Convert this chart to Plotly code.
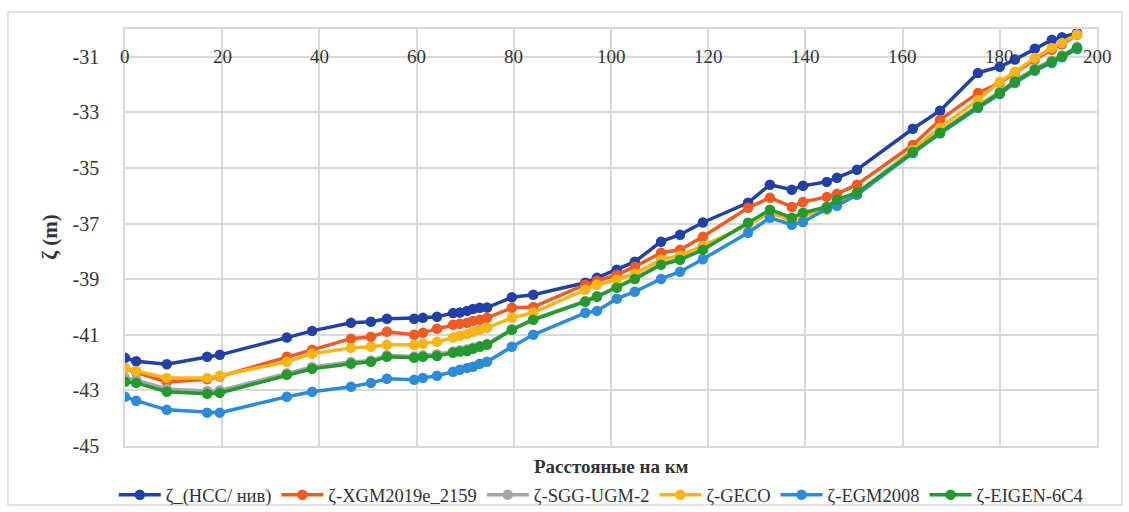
import plotly.graph_objects as go

distance_km = [0, 2.3, 8.6, 16.9, 19.5, 33.3, 38.5, 46.5, 50.6, 53.9, 59.5, 61.3, 64.2,
               67.5, 68.9, 70.4, 71.6, 73.0, 74.5, 79.6, 84.0, 94.7, 97.1, 101.2, 104.9,
               110.3, 114.2, 118.9, 128.2, 132.7, 137.2, 139.5, 144.4, 146.5, 150.6,
               162.1, 167.7, 175.5, 180.0, 183.1, 187.2, 190.7, 192.8, 195.9]

zeta_hcc = [-41.83, -41.95, -42.06, -41.79, -41.72, -41.10, -40.86, -40.57, -40.53, -40.42,
            -40.42, -40.39, -40.35, -40.22, -40.20, -40.14, -40.07, -40.03, -40.02, -39.65,
            -39.56, -39.13, -38.95, -38.66, -38.37, -37.65, -37.40, -36.96, -36.25, -35.60,
            -35.78, -35.64, -35.50, -35.35, -35.06, -33.59, -32.94, -31.58, -31.36, -31.10,
            -30.71, -30.39, -30.30, -30.14]

zeta_xgm = [-42.20, -42.35, -42.70, -42.60, -42.50, -41.79, -41.54, -41.14, -41.07, -40.89,
            -41.00, -40.93, -40.78, -40.64, -40.60, -40.57, -40.50, -40.46, -40.39, -40.03,
            -40.00, -39.20, -39.06, -38.84, -38.55, -38.05, -37.94, -37.47, -36.43, -36.07,
            -36.40, -36.22, -36.04, -35.93, -35.60, -34.17, -33.27, -32.30, -31.94, -31.58,
            -31.10, -30.75, -30.55, -30.21]

zeta_sgg = [-42.55, -42.62, -42.95, -43.02, -43.00, -42.38, -42.16, -41.98, -41.92, -41.74,
            -41.78, -41.74, -41.70, -41.60, -41.56, -41.52, -41.46, -41.40, -41.32, -40.80,
            -40.44, -39.78, -39.60, -39.28, -38.96, -38.45, -38.28, -37.92, -36.98, -36.56,
            -36.82, -36.66, -36.44, -36.18, -35.92, -34.40, -33.70, -32.76, -32.26, -31.86,
            -31.42, -31.14, -30.95, -30.64]

zeta_geco = [-42.19, -42.30, -42.55, -42.55, -42.47, -41.97, -41.68, -41.47, -41.43, -41.36,
             -41.36, -41.32, -41.25, -41.10, -41.03, -40.97, -40.90, -40.82, -40.75, -40.39,
             -40.20, -39.38, -39.20, -39.02, -38.80, -38.30, -38.15, -37.80, -37.05, -36.60,
             -36.90, -36.72, -36.50, -36.25, -35.95, -34.35, -33.55, -32.55, -31.90, -31.54,
             -31.04, -30.68, -30.50, -30.20]

zeta_egm = [-43.23, -43.37, -43.70, -43.80, -43.80, -43.23, -43.05, -42.87, -42.73, -42.58,
            -42.62, -42.55, -42.47, -42.33, -42.26, -42.19, -42.15, -42.04, -41.97, -41.43,
            -41.00, -40.21, -40.14, -39.70, -39.45, -38.99, -38.73, -38.28, -37.33, -36.79,
            -37.04, -36.94, -36.47, -36.36, -35.96, -34.46, -33.76, -32.84, -32.34, -31.94,
            -31.50, -31.22, -31.02, -30.72]

zeta_eigen = [-42.69, -42.73, -43.05, -43.12, -43.09, -42.44, -42.22, -42.04, -41.97, -41.79,
              -41.83, -41.79, -41.76, -41.65, -41.60, -41.58, -41.50, -41.43, -41.36, -40.82,
              -40.46, -39.81, -39.63, -39.31, -38.99, -38.48, -38.30, -37.94, -36.97, -36.50,
              -36.79, -36.61, -36.40, -36.14, -35.89, -34.42, -33.73, -32.80, -32.30, -31.90,
              -31.47, -31.18, -30.98, -30.68]

series_names = ["ζ_(НСС/ нив)", "ζ-XGM2019e_2159", "ζ-SGG-UGM-2", "ζ-GECO", "ζ-EGM2008", "ζ-EIGEN-6C4"]
series_values = [zeta_hcc, zeta_xgm, zeta_sgg, zeta_geco, zeta_egm, zeta_eigen]
series_colors = ["#2141A8", "#F25A22", "#A5A5A5", "#FDB515", "#2C8BDB", "#239A2E"]

x_ticks = [0, 20, 40, 60, 80, 100, 120, 140, 160, 180, 200]
x_tick_labels = ["0", "20", "40", "60", "80", "100", "120", "140", "160", "180", "200"]
y_ticks = [-45, -43, -41, -39, -37, -35, -33, -31]
y_tick_labels = ["-45", "-43", "-41", "-39", "-37", "-35", "-33", "-31"]

SERIF = "Liberation Serif, Times New Roman, serif"

fig = go.Figure()
for name, vals, col in zip(series_names, series_values, series_colors):
    fig.add_trace(go.Scatter(
        x=distance_km, y=vals, name=name, mode="lines+markers",
        line=dict(color=col, width=3.5),
        marker=dict(color=col, size=10.5, symbol="circle"),
    ))

# x tick labels drawn at the y=-31 level, like the Excel axis crossing
for xv, lab in zip(x_ticks, x_tick_labels):
    fig.add_annotation(x=xv, y=-31, xref="x", yref="y", text=lab, showarrow=False,
                       xanchor="center", yanchor="middle",
                       font=dict(family=SERIF, size=19, color="#333333"))

fig.add_annotation(x=0.5, y=-0.048, xref="paper", yref="paper", text="<b>Расстояные на км</b>",
                   showarrow=False, xanchor="center", yanchor="middle",
                   font=dict(family=SERIF, size=19, color="#333333"))
fig.add_annotation(x=-0.078, y=0.5, xref="paper", yref="paper", text="<b>ζ (m)</b>",
                   showarrow=False, textangle=-90, xanchor="center", yanchor="middle",
                   font=dict(family=SERIF, size=21, color="#333333"))

fig.add_shape(type="rect", xref="paper", yref="paper",
              x0=-0.1204, x1=1.0257, y0=-0.1415, y1=1.0408,
              line=dict(color="#D9D9D9", width=1.5), fillcolor="rgba(0,0,0,0)", layer="below")

fig.update_layout(
    width=1129, height=512,
    margin=dict(l=125, r=32, t=29, b=66, autoexpand=False),
    paper_bgcolor="white", plot_bgcolor="white",
    showlegend=True,
    legend=dict(orientation="h", x=0.49, y=-0.118, xanchor="center", yanchor="middle",
                font=dict(family=SERIF, size=18.5, color="#333333"),
                itemwidth=42, tracegroupgap=0, bgcolor="rgba(0,0,0,0)"),
    xaxis=dict(range=[0, 200], tickvals=x_ticks, showticklabels=False,
               showgrid=True, gridcolor="#D9D9D9", gridwidth=1.5,
               showline=True, linecolor="#D9D9D9", linewidth=1.5, mirror=True,
               zeroline=False, fixedrange=True),
    yaxis=dict(range=[-45, -30], tickvals=y_ticks, ticktext=y_tick_labels,
               showgrid=True, gridcolor="#D9D9D9", gridwidth=1.5,
               showline=True, linecolor="#D9D9D9", linewidth=1.5, mirror=True,
               ticks="outside", ticklen=20, tickcolor="rgba(0,0,0,0)",
               tickfont=dict(family=SERIF, size=20, color="#333333"),
               zeroline=False, fixedrange=True),
)

fig.write_html("out.html")
